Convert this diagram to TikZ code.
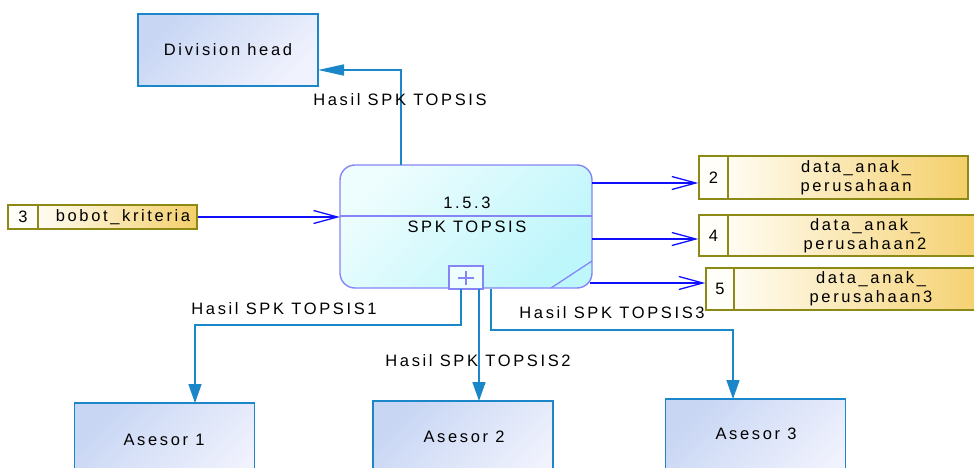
\documentclass[tikz,border=0pt]{standalone}
\usepackage{fontspec}
\setmainfont{Liberation Sans}[LetterSpace=16]
\usetikzlibrary{arrows.meta}
\definecolor{extA}{HTML}{C8D6F4}
\definecolor{extB}{HTML}{F0F2FD}
\definecolor{extLine}{HTML}{1B86C8}
\definecolor{procA}{HTML}{EEFDFE}
\definecolor{procB}{HTML}{BDF6FB}
\definecolor{procLine}{HTML}{8585F5}
\definecolor{stLine}{HTML}{8C8A14}
\definecolor{stA}{HTML}{FFFCF2}
\definecolor{stB}{HTML}{F4CF6A}
\definecolor{stNum}{HTML}{FFFEF8}
\definecolor{flowBlue}{HTML}{1010FF}
\begin{document}
\begin{tikzpicture}[x=1pt,y=-1pt,
  every node/.style={font=\fontsize{16.5}{19}\selectfont, inner sep=0pt, text=black},
  extbox/.style={draw=extLine, line width=1.4pt, top color=extA, bottom color=extB, shading angle=45, minimum width=180pt, minimum height=72pt},
  procbox/.style={draw=procLine, line width=1.4pt, rounded corners=15pt, top color=procA, bottom color=procB, shading angle=45, minimum width=252pt, minimum height=123pt},
  stnum/.style={draw=stLine, line width=1.4pt, fill=stNum},
  stname/.style={draw=stLine, line width=1.4pt, left color=stA, right color=stB},
  flowin/.style={draw=flowBlue, line width=1.3pt, -{Straight Barb[length=24pt,width=13pt,line width=1.3pt]}},
  flowout/.style={draw=extLine, line width=1.6pt, -{Triangle[length=19pt,width=13pt]}},
  flowlong/.style={draw=extLine, line width=1.6pt, -{Triangle[length=26pt,width=11pt]}},
  lbl/.style={anchor=center}
]
\useasboundingbox (0,0) rectangle (974,468);

% external entities
\node[extbox] (div) at (228,50) {Division head};
\node[extbox, minimum height=90pt] (as1) at (164.5,448) {};
\node[extbox, minimum height=90pt] (as2) at (463,446) {};
\node[extbox, minimum height=90pt] (as3) at (755.5,444) {};
\node (as1t) at (164,440) {Asesor 1};
\node (as2t) at (464,437) {Asesor 2};
\node (as3t) at (756,434) {Asesor 3};

% process
\node[procbox] (proc) at (466,226.5) {};
\draw[procLine, line width=1.4pt] (340,216) -- (592,216);
\node (pid) at (467,203) {1.5.3};
\node (pname) at (467,227) {SPK TOPSIS};
\node[draw=procLine, line width=1.4pt, fill=procA, minimum width=34pt, minimum height=23pt] (plus) at (466,277.5) {};
\draw[procLine, line width=1.3pt] (458,278) -- (474,278) (466,271) -- (466,285);
\draw[procLine, line width=1.3pt] (551,288) -- (592,261);

% data stores
\node[stnum, minimum width=30pt, minimum height=24pt] (s3n) at (23,217) {3};
\node[stname, minimum width=159pt, minimum height=24pt] (s3) at (117.5,217) {};
\node (s3t) at (123,217) {bobot\_kriteria};

\node[stnum, minimum width=29pt, minimum height=43pt] (s2n) at (713.5,177.5) {2};
\node[stname, minimum width=240pt, minimum height=43pt] (s2) at (848,177.5) {};
\node[align=center] (s2t) at (856,177.5) {data\_anak\_\\perusahaan};

\node[stnum, minimum width=29pt, minimum height=41pt] (s4n) at (713.5,235.5) {4};
\node[stname, minimum width=262pt, minimum height=41pt] (s4) at (859,235.5) {};
\node[align=center] (s4t) at (865,235.5) {data\_anak\_\\perusahaan2};

\node[stnum, minimum width=28pt, minimum height=42pt] (s5n) at (720,289) {5};
\node[stname, minimum width=256pt, minimum height=42pt] (s5) at (862,289) {};
\node[align=center] (s5t) at (871,289) {data\_anak\_\\perusahaan3};

% connector points
\coordinate (pTop) at (401,165);
\coordinate (divIn) at (318,70);
\coordinate (pB1) at (461,289);
\coordinate (pB2) at (479,289);
\coordinate (pB3) at (491,289);
\coordinate (a1In) at (195,403);
\coordinate (a2In) at (479,401);
\coordinate (a3In) at (733,399);
\coordinate (pIn) at (340,217);
\coordinate (pO2) at (592,183);
\coordinate (pO4) at (592,239);
\coordinate (pO5) at (590,283);

% flows
\draw[flowin] (s3.east) -- (pIn);
\draw[flowin] (pO2) -- (pO2 -| s2n.west);
\draw[flowin] (pO4) -- (pO4 -| s4n.west);
\draw[flowin] (pO5) -- (pO5 -| s5n.west);

\draw[flowlong] (pTop) |- (divIn);
\draw[flowout] (pB1) -- (461,325) -| (a1In);
\draw[flowout] (pB2) -- (a2In);
\draw[flowout] (pB3) -- (491,330) -| (a3In);

% labels
\node[lbl] (l0) at (400,100) {Hasil SPK TOPSIS};
\node[lbl] (l1) at (284,309) {Hasil SPK TOPSIS1};
\node[lbl] (l2) at (478,361) {Hasil SPK TOPSIS2};
\node[lbl] (l3) at (612,313) {Hasil SPK TOPSIS3};
\end{tikzpicture}
\end{document}
